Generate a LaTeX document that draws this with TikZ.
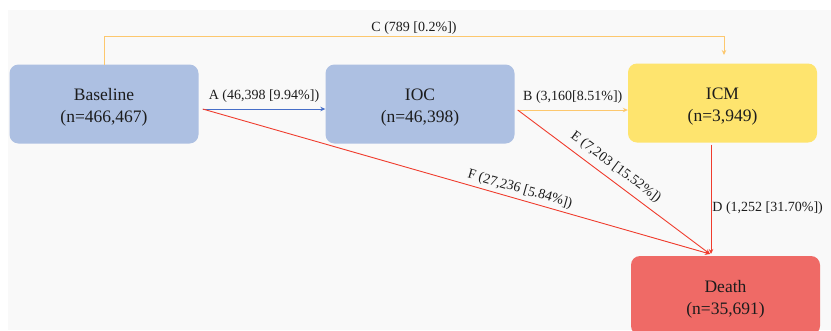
\documentclass[tikz,border=0pt]{standalone}
\usepackage{fontspec}
\setmainfont{Liberation Serif}
\usetikzlibrary{arrows.meta,calc}
\definecolor{bg}{RGB}{249,249,249}
\definecolor{boxblue}{RGB}{173,192,226}
\definecolor{boxyellow}{RGB}{254,228,110}
\definecolor{boxred}{RGB}{239,106,102}
\definecolor{lnblue}{RGB}{70,110,200}
\definecolor{lnorange}{RGB}{253,200,110}
\definecolor{lnred}{RGB}{240,60,45}
\definecolor{txt}{RGB}{28,28,28}
\newcommand{\boxtxt}[2]{\raisebox{-8pt}[0pt][0pt]{\parbox{180pt}{\centering #1\\#2}}}
\tikzset{
  statebox/.style={rounded corners=9pt, minimum width=189pt, minimum height=79pt,
    align=center, text=txt, font=\fontsize{17.5}{22}\selectfont, inner sep=0pt},
  conn/.style={line width=0.9pt, -{Stealth[length=5pt,width=4.5pt]}},
  lbl/.style={text=txt, font=\fontsize{14}{16}\selectfont, inner sep=1pt}
}
\begin{document}
\begin{tikzpicture}[x=1pt,y=-1pt]
\useasboundingbox (0,0) rectangle (831,330);
\fill[white] (0,0) rectangle (831,330);
\fill[bg] (8,10) rectangle (831,330);
\begin{scope}
\clip (0,0) rectangle (831,330);
\node[statebox, fill=boxblue] (base) at (104,104) {\boxtxt{Baseline}{(n=466,467)}};
\node[statebox, fill=boxblue] (ioc) at (420,104) {\boxtxt{IOC}{(n=46,398)}};
\node[statebox, fill=boxyellow] (icm) at (722.5,103) {\boxtxt{ICM}{(n=3,949)}};
\node[statebox, fill=boxred] (death) at (725.5,295.5) {\boxtxt{Death}{(n=35,691)}};
\end{scope}
% anchor coordinates
\coordinate (bs) at ($(base.east)+(4,5)$);
\coordinate (is) at ($(ioc.east)+(3,6)$);
\coordinate (dt) at (710,254);
\coordinate (cs) at (104,64.5);
\coordinate (ce) at (724,55);
% C
\draw[conn, lnorange] (cs) -- (104,36) -- node[lbl, above=0.5pt] {C (789 [0.2\%])} (724,36) -- (ce);
% A
\draw[conn, lnblue] (bs) -- node[lbl, above=5pt] {A (46,398 [9.94\%])} (ioc.west |- bs);
% B
\draw[conn, lnorange] (is) -- node[lbl, above=5pt] {B (3,160[8.51\%])} (icm.west |- is);
% F
\draw[conn, lnred] (bs) -- node[lbl, pos=0.62, above=2pt, sloped] {F (27,236 [5.84\%])} (dt);
% E
\draw[conn, lnred] (is) -- node[lbl, pos=0.47, above=5pt, sloped] {E (7,203 [15.52\%])} (dt);
% D
\draw[conn, lnred] (711,144.5) -- node[lbl, right=0pt, pos=0.58] {D (1,252 [31.70\%])} (dt -| 711,0);
\end{tikzpicture}
\end{document}
